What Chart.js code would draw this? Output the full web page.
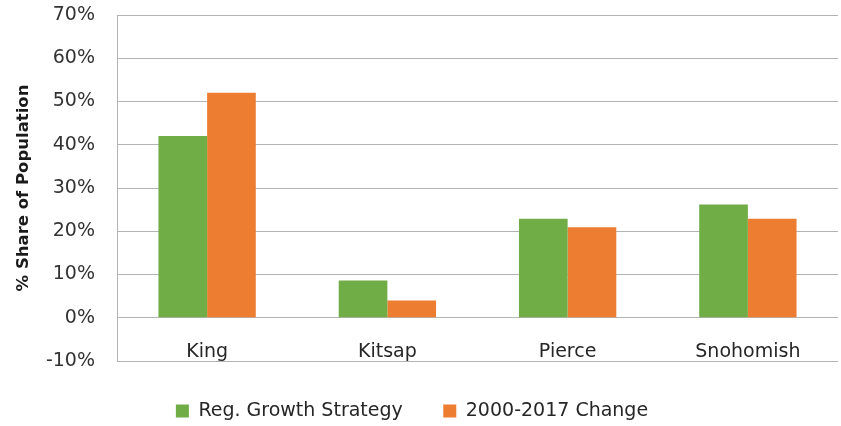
<!DOCTYPE html>
<html>
<head>
<meta charset="utf-8">
<script src="https://cdn.jsdelivr.net/npm/chart.js@4"></script>
<style>
  body { margin: 0; background: #fff; }
  #chart { display: block; }
</style>
</head>
<body>
<canvas id="chart" width="841" height="426"></canvas>
<script>
// Chart data
const counties = ["King", "Kitsap", "Pierce", "Snohomish"];
const growthStrategy = [42, 8.6, 22.9, 26.2];
const change2000to2017 = [52, 4, 20.9, 22.9];
const seriesNames = ["Reg. Growth Strategy", "2000-2017 Change"];

const context = document.getElementById("chart").getContext("2d");
const fontName = "'DejaVu Sans', sans-serif";

new Chart(context, {
  type: "bar",
  data: {
    labels: counties,
    datasets: [
      {
        label: seriesNames[0],
        data: growthStrategy,
        backgroundColor: "#70ad47"
      },
      {
        label: seriesNames[1],
        data: change2000to2017,
        backgroundColor: "#ed7d31"
      }
    ]
  },
  options: {
    responsive: false,
    animation: false,
    categoryPercentage: 0.54,
    barPercentage: 1,
    // left is negative so the legend centre sits a bit left, like the original
    layout: { padding: { top: 15, left: -14, right: 3, bottom: -4.5 } },
    plugins: {
      tooltip: { enabled: false },
      legend: {
        position: "bottom",
        labels: {
          color: "#262626",
          font: { family: fontName, size: 19 },
          boxWidth: 13,
          boxHeight: 13,
          padding: 40.5
        }
      }
    },
    scales: {
      x: {
        // category labels sit just under the 0% line
        position: { y: 0 },
        grid: { display: false, drawTicks: false },
        border: { display: false },
        ticks: {
          color: "#262626",
          font: { family: fontName, size: 19 },
          padding: 23
        }
      },
      y: {
        min: -10,
        max: 70,
        afterFit: (scale) => {
          scale.width = 131;
        },
        ticks: {
          stepSize: 10,
          color: "#333",
          font: { family: fontName, size: 19 },
          padding: 0,
          callback: (v) => v + "%"
        },
        grid: {
          color: "#b3b3b3",
          drawTicks: true,
          tickLength: 22,
          tickColor: "rgba(0,0,0,0)"
        },
        border: { color: "#b3b3b3" },
        title: {
          display: true,
          text: "% Share of Population",
          color: "#1a1a1a",
          font: { family: fontName, size: 16.5, weight: "bold" },
          padding: { top: 28, bottom: 2 }
        }
      }
    }
  }
});
</script>
</body>
</html>
